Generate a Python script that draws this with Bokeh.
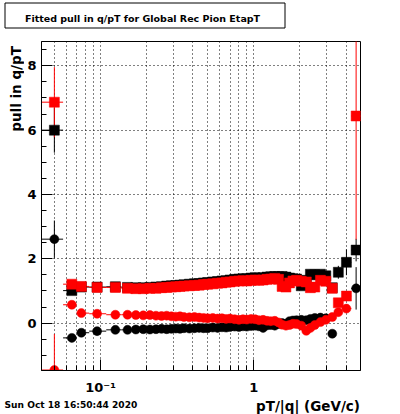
import math
from bokeh.plotting import figure
from bokeh.layouts import column, row
from bokeh.models import FixedTicker, CustomJSTickFormatter
from bokeh.core.properties import value
from bokeh.embed import file_html
from bokeh.resources import INLINE

NAN = float("nan")

# ---------------- data ----------------
pt = [0.05, 0.065, 0.075, 0.095, 0.125, 0.15, 0.17, 0.19, 0.21, 0.23,
      0.25, 0.27, 0.29, 0.31, 0.33, 0.35, 0.38, 0.41, 0.44, 0.47,
      0.50, 0.54, 0.58, 0.62, 0.66, 0.70, 0.75, 0.80, 0.85, 0.90,
      0.96, 1.02, 1.08, 1.15, 1.22, 1.29, 1.37, 1.45, 1.53, 1.62,
      1.71, 1.80, 1.90, 2.04, 2.20, 2.34, 2.50, 2.72, 2.95, 3.25,
      3.56, 4.02, 4.65]

black_sq = [6.00, 1.01, 1.12, 1.12, 1.13, 1.11, 1.10, 1.10, 1.11, 1.12,
            1.13, 1.15, 1.16, 1.17, 1.18, 1.19, 1.21, 1.22, 1.23, 1.25,
            1.26, 1.28, 1.29, 1.31, 1.32, 1.34, 1.36, 1.37, 1.38, 1.38,
            1.40, 1.41, 1.40, 1.41, 1.43, 1.44, 1.45, 1.44, 1.45, 1.43,
            1.40, 1.38, 1.37, 1.16, 1.33, 1.52, 1.50, 1.52, 1.47, 1.10,
            1.58, 1.89, 2.27]
black_sq_err = [0.70, 0.05, 0.04, 0.04, 0.04, 0.03, 0.03, 0.03, 0.03, 0.03,
                0.03, 0.03, 0.03, 0.03, 0.03, 0.03, 0.03, 0.03, 0.03, 0.03,
                0.03, 0.03, 0.03, 0.03, 0.03, 0.03, 0.03, 0.03, 0.03, 0.03,
                0.03, 0.03, 0.03, 0.03, 0.03, 0.03, 0.03, 0.03, 0.03, 0.03,
                0.03, 0.03, 0.03, 0.04, 0.04, 0.05, 0.05, 0.06, 0.08, 0.10,
                0.20, 0.40, 0.35]

red_sq = [6.87, 1.21, 1.14, 1.11, 1.11, 1.08, 1.07, 1.07, 1.08, 1.08,
          1.10, 1.11, 1.12, 1.13, 1.14, 1.15, 1.16, 1.17, 1.18, 1.20,
          1.21, 1.22, 1.24, 1.25, 1.27, 1.28, 1.30, 1.31, 1.32, 1.31,
          1.33, 1.34, 1.33, 1.34, 1.36, 1.37, 1.39, 1.36, 1.14, 1.12,
          1.25, 1.31, 1.33, 1.30, 1.28, 1.10, 1.12, 1.33, 1.30, 1.08,
          0.63, 0.84, 6.44]
red_sq_err = [1.09, 0.05, 0.04, 0.04, 0.04, 0.03, 0.03, 0.03, 0.03, 0.03,
              0.03, 0.03, 0.03, 0.03, 0.03, 0.03, 0.03, 0.03, 0.03, 0.03,
              0.03, 0.03, 0.03, 0.03, 0.03, 0.03, 0.03, 0.03, 0.03, 0.03,
              0.03, 0.03, 0.03, 0.03, 0.03, 0.03, 0.03, 0.03, 0.03, 0.03,
              0.03, 0.03, 0.03, 0.04, 0.04, 0.05, 0.05, 0.06, 0.08, 0.08,
              0.10, 0.10, 3.84]

black_ci = [2.61, -0.46, -0.30, -0.25, -0.21, -0.21, -0.20, -0.19, -0.20, -0.19,
            -0.18, -0.19, -0.18, -0.17, -0.18, -0.16, -0.17, -0.16, -0.15, -0.16,
            -0.16, -0.14, -0.15, -0.13, -0.14, -0.12, -0.11, -0.12, -0.10, -0.11,
            -0.09, -0.08, -0.10, -0.15, -0.07, -0.06, -0.08, -0.03, 0.00, -0.02,
            0.06, 0.08, 0.09, 0.10, 0.09, 0.13, 0.16, 0.17, 0.15, -0.33,
            NAN, NAN, 1.08]
black_ci_err = [0.58, 0.05, 0.04, 0.04, 0.04, 0.03, 0.03, 0.03, 0.03, 0.03,
                0.03, 0.03, 0.03, 0.03, 0.03, 0.03, 0.03, 0.03, 0.03, 0.03,
                0.03, 0.03, 0.03, 0.03, 0.03, 0.03, 0.03, 0.03, 0.03, 0.03,
                0.03, 0.03, 0.03, 0.03, 0.03, 0.03, 0.03, 0.03, 0.03, 0.03,
                0.03, 0.03, 0.03, 0.04, 0.04, 0.05, 0.05, 0.06, 0.08, 0.08,
                0.10, 0.10, 0.66]

red_ci = [-1.46, 0.57, 0.31, 0.29, 0.26, 0.26, 0.25, 0.24, 0.25, 0.23,
          0.22, 0.23, 0.21, 0.20, 0.21, 0.19, 0.18, 0.19, 0.17, 0.16,
          0.15, 0.16, 0.14, 0.15, 0.13, 0.14, 0.12, 0.10, 0.12, 0.11,
          0.13, 0.12, 0.09, 0.10, 0.07, 0.06, 0.07, 0.02, -0.05, -0.08,
          -0.06, -0.02, -0.03, -0.08, -0.24, -0.15, -0.06, 0.03, 0.10, 0.19,
          0.34, 0.45, NAN]
red_ci_err = [1.12, 0.05, 0.04, 0.04, 0.04, 0.03, 0.03, 0.03, 0.03, 0.03,
              0.03, 0.03, 0.03, 0.03, 0.03, 0.03, 0.03, 0.03, 0.03, 0.03,
              0.03, 0.03, 0.03, 0.03, 0.03, 0.03, 0.03, 0.03, 0.03, 0.03,
              0.03, 0.03, 0.03, 0.03, 0.03, 0.03, 0.03, 0.03, 0.03, 0.03,
              0.03, 0.03, 0.03, 0.04, 0.04, 0.05, 0.05, 0.06, 0.08, 0.08,
              0.08, 0.08, 0.10]

x_major = [0.1, 1.0]
x_labels = ["10\u207b\u00b9", "1"]
x_minor = [0.05, 0.06, 0.07, 0.08, 0.09, 0.2, 0.3, 0.4, 0.5, 0.6, 0.7, 0.8, 0.9, 2.0, 3.0, 4.0]
y_major = [0, 2, 4, 6, 8]
y_minor = [-1, -0.5, 0.5, 1, 1.5, 2.5, 3, 3.5, 4.5, 5, 5.5, 6.5, 7, 7.5, 8.5]

title_text = "Fitted pull in q/pT for Global Rec Pion EtapT"
x_title = "pT/|q| (GeV/c)"
y_title = "pull in q/pT"
date_text = "Sun Oct 18 16:50:44 2020"

X_LO, X_HI = 0.04121, 4.966
Y_LO, Y_HI = -1.4745, 8.757
BIN_LO, BIN_HI = 0.04, 5.0

FONT = "DejaVu Sans"

# layout sizes (pixels)
TOTAL_W = 400
TOP_H = 40
BOT_H = 17
MID_H = 414 - TOP_H - BOT_H       # 357
LEFT_W = 24
MAIN_W = TOTAL_W - LEFT_W         # 376


def strip(w, h):
    f = figure(width=w, height=h, x_range=(0, w), y_range=(0, h),
               min_border=0, toolbar_location=None, output_backend="svg",
               x_axis_location=None, y_axis_location=None)
    f.grid.visible = False
    f.outline_line_color = None
    f.background_fill_color = "white"
    f.border_fill_color = "white"
    return f


# ---------------- main plot ----------------
edges_lo = [BIN_LO] + [math.sqrt(pt[i - 1] * pt[i]) for i in range(1, len(pt))]
edges_hi = [math.sqrt(pt[i] * pt[i + 1]) for i in range(len(pt) - 1)] + [BIN_HI]

p = figure(width=MAIN_W, height=MID_H, x_axis_type="log",
           x_range=(X_LO, X_HI), y_range=(Y_LO, Y_HI),
           output_backend="svg", toolbar_location=None,
           min_border_left=17, min_border_right=40,
           min_border_top=1, min_border_bottom=25)
p.background_fill_color = "white"
p.border_fill_color = "white"
p.outline_line_color = "black"
p.outline_line_width = 1

xax = p.xaxis[0]
yax = p.yaxis[0]
xax.ticker = FixedTicker(ticks=x_major, minor_ticks=x_minor)
yax.ticker = FixedTicker(ticks=y_major, minor_ticks=y_minor)
xax.formatter = CustomJSTickFormatter(args=dict(majors=x_major, labs=x_labels), code="""
for (let i = 0; i < majors.length; i++) {
  if (Math.abs(Math.log10(majors[i]) - Math.log10(tick)) < 1e-6) return labs[i];
}
return '';
""")
for ax in (xax, yax):
    ax.axis_line_color = "black"
    ax.major_tick_line_color = "black"
    ax.minor_tick_line_color = "black"
    ax.major_tick_in = 11
    ax.major_tick_out = 0
    ax.minor_tick_in = 5
    ax.minor_tick_out = 0
    ax.major_label_text_font = FONT
    ax.major_label_text_font_style = "bold"
    ax.major_label_text_font_size = "13px"
    ax.major_label_text_color = "black"
xax.major_label_standoff = 9
yax.major_label_standoff = 5

p.xgrid.grid_line_color = "black"
p.xgrid.grid_line_dash = "1 3"
p.xgrid.minor_grid_line_color = "black"
p.xgrid.minor_grid_line_dash = "1 3"
p.ygrid.grid_line_color = "black"
p.ygrid.grid_line_dash = "1 3"

series = [
    (black_sq, black_sq_err, "black", "square", 10),
    (black_ci, black_ci_err, "black", "circle", 9),
    (red_sq, red_sq_err, "red", "square", 10),
    (red_ci, red_ci_err, "red", "circle", 9),
]
for vals, errs, col, mk, sz in series:
    p.segment(x0=edges_lo, x1=edges_hi, y0=vals, y1=vals, line_color=col, line_width=1)
    p.segment(x0=pt, x1=pt, y0=[v - e for v, e in zip(vals, errs)],
              y1=[v + e for v, e in zip(vals, errs)], line_color=col, line_width=1)
for vals, errs, col, mk, sz in series:
    p.scatter(x=pt, y=vals, marker=mk, size=sz, fill_color=col, line_color=col, line_width=0.5)

# ---------------- title strip ----------------
top = strip(TOTAL_W, TOP_H)
top.quad(left=[4.5], right=[284.5], top=[TOP_H - 2.5], bottom=[TOP_H - 27.5],
         fill_color="white", line_color="black", line_width=1)
top.text(x=[142], y=[TOP_H - 18.3], text=[title_text], text_font=value(FONT),
         text_font_style="bold", text_font_size=value("9.5px"), text_color="black",
         text_align="center", text_baseline="alphabetic")

# ---------------- y-label strip ----------------
left = strip(LEFT_W, MID_H)
left.text(x=[23], y=[MID_H - 5], text=[y_title], angle=math.pi / 2,
          text_font=value(FONT), text_font_style="bold", text_font_size=value("13.5px"),
          text_color="black", text_align="right", text_baseline="bottom")

# ---------------- bottom strip ----------------
bottom = strip(TOTAL_W, BOT_H)
bottom.text(x=[359.5], y=[9.0], text=[x_title], text_font=value(FONT),
            text_font_style="bold", text_font_size=value("13.5px"), text_color="black",
            text_align="right", text_baseline="alphabetic")
bottom.text(x=[4], y=[9.5], text=[date_text], text_font=value(FONT),
            text_font_style="bold", text_font_size=value("9.1px"), text_color="black",
            text_align="left", text_baseline="alphabetic")

layout = column(top, row(left, p, spacing=0), bottom, spacing=0)

open("out.html", "w").write(file_html(layout, INLINE))
